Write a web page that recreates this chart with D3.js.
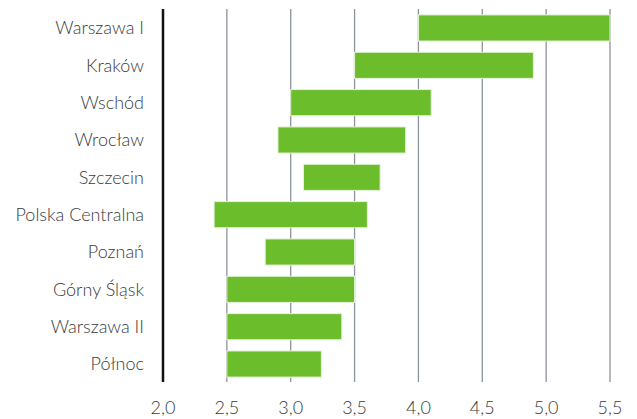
<!DOCTYPE html>
<html>
<head>
<meta charset="utf-8">
<script src="https://cdn.jsdelivr.net/npm/d3@7"></script>
<style>
  html, body { margin: 0; padding: 0; background: #fff; }
  svg { display: block; }
  text { font-family: "Lato", "Open Sans", sans-serif; font-weight: 300; fill: #3a3a3a; }
</style>
</head>
<body>
<svg id="chart" width="637" height="419"></svg>
<script>
const categories = ["Warszawa I", "Kraków", "Wschód", "Wrocław", "Szczecin", "Polska Centralna", "Poznań", "Górny Śląsk", "Warszawa II", "Północ"];
const lowValues  = [4.0, 3.5, 3.0, 2.9, 3.1, 2.4, 2.8, 2.5, 2.5, 2.5];
const highValues = [5.5, 4.9, 4.1, 3.9, 3.7, 3.6, 3.5, 3.5, 3.4, 3.24];
const tickValues = [2.0, 2.5, 3.0, 3.5, 4.0, 4.5, 5.0, 5.5];

const data = categories.map((c, i) => ({ name: c, lo: lowValues[i], hi: highValues[i] }));

const svg = d3.select("#chart");
const x = d3.scaleLinear().domain([2.0, 5.5]).range([163, 610]);
const y = d3.scaleBand().domain(categories).range([9.3, 382.7]).paddingInner(0.3).paddingOuter(0.15);

// gridlines
svg.append("g").selectAll("line").data(tickValues.slice(1)).join("line")
  .attr("x1", d => x(d)).attr("x2", d => x(d))
  .attr("y1", 9).attr("y2", 382)
  .attr("stroke", "#8c939b").attr("stroke-width", 1.3);

// bars
svg.append("g").selectAll("rect").data(data).join("rect")
  .attr("x", d => x(d.lo))
  .attr("width", d => x(d.hi) - x(d.lo))
  .attr("y", d => y(d.name))
  .attr("height", y.bandwidth())
  .attr("fill", "#6bbd2b")
  .attr("stroke", "#e6f3dc")
  .attr("stroke-width", 1);

// vertical axis line
svg.append("line")
  .attr("x1", 163).attr("x2", 163).attr("y1", 9).attr("y2", 382)
  .attr("stroke", "#111").attr("stroke-width", 2.5);

// category labels
svg.append("g").selectAll("text").data(categories).join("text")
  .attr("x", 144)
  .attr("y", d => y(d) + y.bandwidth() / 2)
  .attr("dy", "0.35em")
  .attr("text-anchor", "end")
  .attr("font-size", 18)
  .text(d => d);

// x tick labels
const fmt = d => d3.format(".1f")(d).replace(".", ",");
svg.append("g").selectAll("text").data(tickValues).join("text")
  .attr("x", d => x(d))
  .attr("y", 414)
  .attr("text-anchor", "middle")
  .attr("font-size", 18)
  .text(fmt);
</script>
</body>
</html>
